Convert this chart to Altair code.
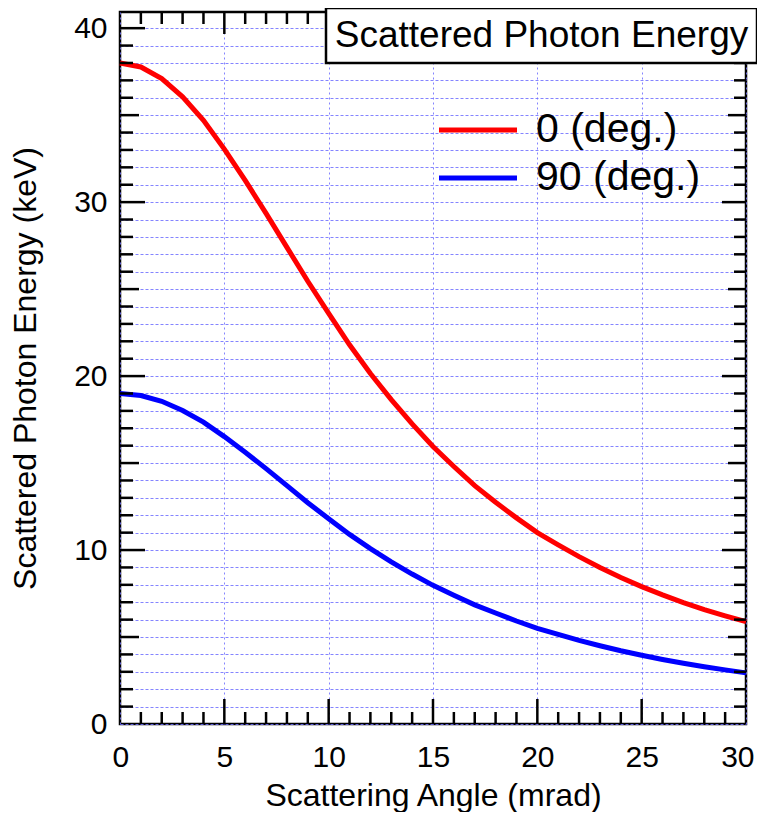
import altair as alt
import pandas as pd

# ---------------- data ----------------
angle = list(range(31))  # mrad
e_0deg = [38.0, 37.77, 37.1, 36.05, 34.7, 33.05, 31.25, 29.35, 27.4, 25.45,
          23.6, 21.8, 20.15, 18.65, 17.25, 15.95, 14.8, 13.7, 12.75, 11.85,
          11.0, 10.3, 9.62, 9.0, 8.42, 7.9, 7.42, 6.98, 6.58, 6.22, 5.88]
e_90deg = [19.0, 18.88, 18.55, 18.02, 17.35, 16.52, 15.62, 14.68, 13.7, 12.72,
           11.8, 10.9, 10.08, 9.32, 8.62, 7.97, 7.4, 6.85, 6.38, 5.92,
           5.5, 5.15, 4.81, 4.5, 4.21, 3.95, 3.71, 3.49, 3.29, 3.11, 2.94]
series_names = ["0 (deg.)", "90 (deg.)"]
series_colors = ["#ff0000", "#0000ff"]
plot_title = "Scattered Photon Energy"
x_title = "Scattering Angle (mrad)"
y_title = "Scattered Photon Energy (keV)"
x_label_values = [0, 5, 10, 15, 20, 25, 30]
y_grid_values = list(range(0, 41))
x_minor = [v for v in range(31) if v % 5]
x_major = [5, 10, 15, 20, 25]
y_minor = [v for v in range(41) if v % 5]
y_mid = [5, 15, 25, 35]
y_major = [10, 20, 30, 40]

df = pd.DataFrame({
    "angle": angle * 2,
    "energy": e_0deg + e_90deg,
    "series": [series_names[0]] * len(angle) + [series_names[1]] * len(angle),
})

W, H = 626, 712
FONT = "Liberation Sans"
LABEL_FS = 30
TITLE_FS = 32
xscale = alt.Scale(domain=[0, 30], nice=False, zero=False)
yscale = alt.Scale(domain=[0, 40.93], nice=False, zero=False)

x_axis = alt.Axis(
    values=x_label_values, title=x_title, titleFontSize=TITLE_FS, titleFontWeight="normal",
    titleColor="black", titlePadding=8, labelFontSize=LABEL_FS, labelColor="black",
    labelPadding=18, labelFlush=1, labelFlushOffset=8, ticks=False, tickSize=0, domain=False,
    grid=True, gridColor="#6f6fff", gridDash=[2, 3], gridWidth=1, gridOpacity=0.85)
y_axis = alt.Axis(
    values=y_grid_values, title=y_title, titleFontSize=TITLE_FS, titleFontWeight="normal",
    titleColor="black", titlePadding=31, labelFontSize=LABEL_FS, labelColor="black",
    labelPadding=13, labelExpr="datum.value % 10 === 0 ? datum.label : ''",
    labelFlush=False, ticks=False, tickSize=0, domain=False,
    grid=True, gridColor="#6f6fff", gridDash=[3, 2], gridWidth=1, gridOpacity=0.85)

lines = alt.Chart(df).mark_line(strokeWidth=5).encode(
    x=alt.X("angle:Q", scale=xscale, axis=x_axis),
    y=alt.Y("energy:Q", scale=yscale, axis=y_axis),
    color=alt.Color("series:N", scale=alt.Scale(domain=series_names, range=series_colors),
                    legend=None),
)


def xticks(vals, y0, y1):
    return alt.Chart(pd.DataFrame({"angle": vals})).mark_rule(color="black", strokeWidth=2.5).encode(
        x=alt.X("angle:Q", scale=xscale, axis=x_axis), y=alt.value(y0), y2=alt.value(y1))


def yticks(vals, x0, x1):
    return alt.Chart(pd.DataFrame({"energy": vals})).mark_rule(color="black", strokeWidth=2.5).encode(
        y=alt.Y("energy:Q", scale=yscale, axis=y_axis), x=alt.value(x0), x2=alt.value(x1))


ticks = [
    xticks(x_minor, H, H - 12), xticks(x_major, H, H - 25),
    xticks(x_minor, 0, 12), xticks(x_major, 0, 22),
    yticks(y_minor, 0, 13), yticks(y_mid, 0, 19), yticks(y_major, 0, 25),
    yticks(y_minor, W, W - 12), yticks(y_mid, W, W - 18), yticks(y_major, W, W - 24),
]

legend_layers = []
for i, (name, col) in enumerate(zip(series_names, series_colors)):
    d = pd.DataFrame({"label": [name]})
    ypix = 118 + 48 * i
    legend_layers.append(alt.Chart(d).mark_rule(color=col, strokeWidth=5).encode(
        x=alt.value(319), x2=alt.value(397), y=alt.value(ypix)))
    legend_layers.append(alt.Chart(d).mark_text(
        align="left", baseline="middle", fontSize=41, color="black").encode(
        x=alt.value(416), y=alt.value(ypix), text="label:N"))

tdf = pd.DataFrame({"title": [plot_title]})
title_box = alt.Chart(tdf).mark_rect(fill="white", stroke="black", strokeWidth=2.5).encode(
    x=alt.value(206), x2=alt.value(637), y=alt.value(-4), y2=alt.value(51))
title_text = alt.Chart(tdf).mark_text(
    align="center", baseline="middle", fontSize=37, color="black").encode(
    x=alt.value(421.5), y=alt.value(24), text="title:N")

chart = alt.layer(lines, *ticks, title_box, title_text, *legend_layers).properties(
    width=W, height=H,
    autosize=alt.AutoSizeParams(type="none"),
    padding={"left": 112, "top": 4, "right": 11, "bottom": 88},
).configure(font=FONT).configure_view(stroke="black", strokeWidth=2.5).configure_axis(
    labelFontSize=LABEL_FS, titleFontSize=TITLE_FS, labelFont=FONT, titleFont=FONT)

chart.save("out.html", embed_options={"renderer": "svg", "actions": False})
